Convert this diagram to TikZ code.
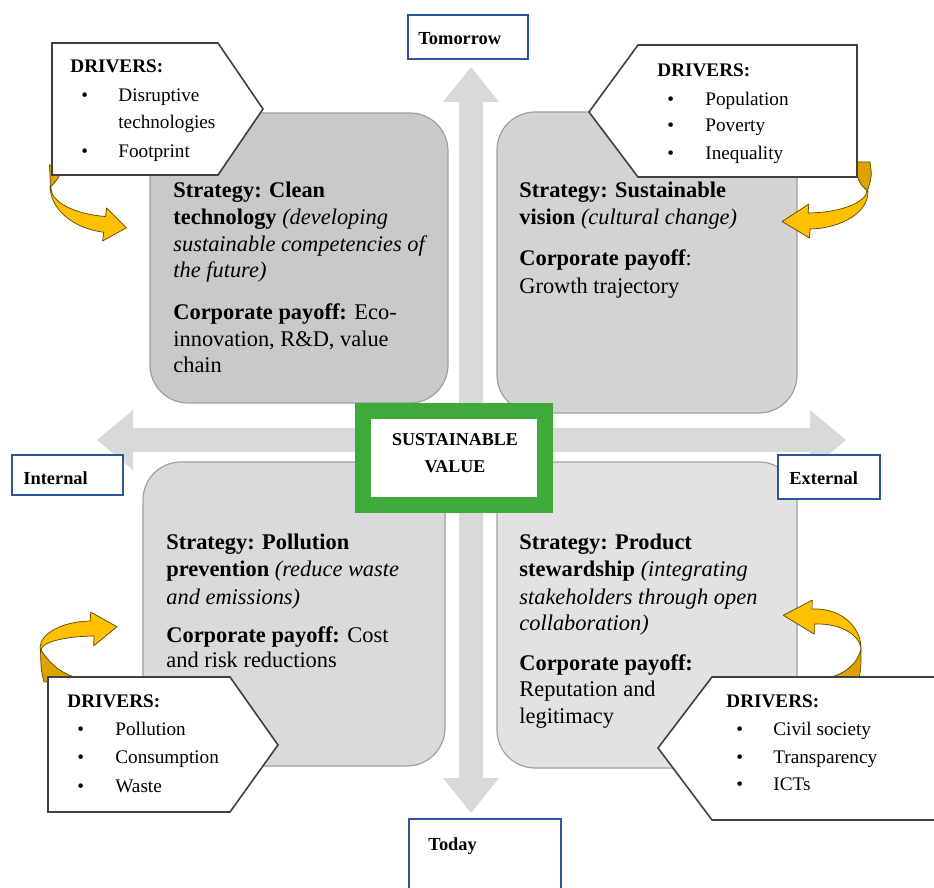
\documentclass[tikz,border=0pt]{standalone}
\usepackage{fontspec}
\setmainfont{Liberation Serif}

\definecolor{axisgray}{HTML}{D9D9D9}
\definecolor{quadA}{HTML}{C9C9C9}
\definecolor{quadB}{HTML}{D3D3D3}
\definecolor{quadC}{HTML}{DADADA}
\definecolor{quadD}{HTML}{E2E2E2}
\definecolor{quadline}{HTML}{A0A0A0}
\definecolor{drvline}{HTML}{404040}
\definecolor{lblblue}{HTML}{2E5597}
\definecolor{valgreen}{HTML}{3DAA3A}
\definecolor{ribbon}{HTML}{FFC000}
\definecolor{ribbonback}{HTML}{DDA200}
\definecolor{ribbonline}{HTML}{5C4600}

\begin{document}
\begin{tikzpicture}[x=0.5pt,y=-0.5pt,
  quad/.style={draw=quadline,line width=0.6pt,rounded corners=19pt},
  drv/.style={fill=white,draw=drvline,line width=0.8pt,line join=miter},
  lbl/.style={fill=white,draw=lblblue,line width=1pt},
  rib/.style={fill=ribbon,draw=ribbonline,line width=0.35pt,line join=round},
  ribback/.style={fill=ribbonback,draw=ribbonline,line width=0.35pt,line join=round},
  qt/.style={anchor=base west,inner sep=0pt,font=\fontsize{11.2}{12}\selectfont},
  dt/.style={anchor=base west,inner sep=0pt,font=\fontsize{9.6}{10}\selectfont},
  lt/.style={anchor=base west,inner sep=0pt,font=\fontsize{9.2}{10}\selectfont\bfseries},
  vt/.style={anchor=base,inner sep=0pt,font=\fontsize{9}{10}\selectfont\bfseries}]

\clip (0,0) rectangle (934,888);

% double-headed axes
\fill[axisgray] (471,67) -- (499,102) -- (483,102) -- (483,778) -- (499,778)
  -- (471,813) -- (443,778) -- (459,778) -- (459,102) -- (443,102) -- cycle;
\fill[axisgray] (97,440) -- (133,410) -- (133,428) -- (810,428) -- (810,410)
  -- (846,440) -- (810,470) -- (810,452) -- (133,452) -- (133,470) -- cycle;

% quadrant panels
\draw[quad,fill=quadA] (150,113) rectangle (448,403);
\draw[quad,fill=quadB] (497,112) rectangle (797,413);
\draw[quad,fill=quadC] (143,462) rectangle (445,766);
\draw[quad,fill=quadD] (497,462) rectangle (797,768);

% curved ribbon arrows (drawn under the driver tags)
% top left
\draw[ribback] (50.5,187) -- (49.5,165) -- (63,165) .. controls (59,178) .. (50.5,187) -- cycle;
\draw[rib] (50,186) arc[start angle=180,end angle=100,x radius=65,y radius=47]
  -- (102.6,241) -- (126.4,227.8) -- (106.6,208) -- (105.5,216.5)
  arc[start angle=100,end angle=180,x radius=66,y radius=29] -- cycle;
% top right
\draw[ribback] (867.5,191) .. controls (858,182) .. (856,162) -- (870,162) .. controls (872,176) .. (867.5,191) -- cycle;
\draw[rib] (868,192) arc[start angle=0,end angle=88,x radius=60,y radius=37]
  -- (809.4,238) -- (782.1,221.5) -- (808.8,204) -- (808.1,213)
  arc[start angle=88,end angle=0,x radius=61,y radius=23] -- cycle;
% bottom left
\draw[ribback] (40.5,649) .. controls (52,668) and (66,676) .. (86,680) -- (44,682) .. controls (41,670) .. (40.5,649) -- cycle;
\draw[rib] (40,648) arc[start angle=180,end angle=268,x radius=52,y radius=27]
  -- (90.7,612.1) -- (117.05,626.8) -- (93.6,645.9) -- (94.1,636)
  arc[start angle=268,end angle=180,x radius=55,y radius=14] -- cycle;
% bottom right
\draw[ribback] (861,649) .. controls (856,668) and (840,676) .. (820,680) -- (858,682) .. controls (861,670) .. (861,649) -- cycle;
\draw[rib] (861,648) arc[start angle=0,end angle=-95,x radius=45,y radius=39]
  -- (812.2,600.1) -- (783.3,615.3) -- (814.2,634.1) -- (814.3,624.1)
  arc[start angle=-95,end angle=0,x radius=43,y radius=26] -- cycle;

% driver tags
\draw[drv] (52,43) -- (218,43) -- (263,109) -- (218,175) -- (52,175) -- cycle;
\draw[drv] (857,45) -- (638,45) -- (589,112) -- (638,177) -- (857,177) -- cycle;
\draw[drv] (48,677) -- (230,677) -- (278,745) -- (230,812) -- (48,812) -- cycle;
\draw[drv] (940,677) -- (712,677) -- (658,748) -- (712,820) -- (940,820) -- cycle;

% axis labels
\draw[lbl] (408,15) rectangle (528,59);
\draw[lbl] (409,819) rectangle (561,900);
\draw[lbl] (12,455) rectangle (123,495);
\draw[lbl] (778,455) rectangle (880,499);
\node[lt] (tomorrow) at (418,45) {Tomorrow};
\node[lt] (today) at (428,850) {Today};
\node[lt] (internal) at (23,485) {Internal};
\node[lt] (external) at (789,485) {External};

% centre box
\draw[draw=valgreen,line width=8pt,fill=white] (363,411) rectangle (545,505);
\node[vt] (sv1) at (455,446) {SUSTAINABLE};
\node[vt] (sv2) at (455,473) {VALUE};

% top-left panel text
\node[qt] (tl1) at (173,198) {\textbf{Strategy: Clean}};
\node[qt] (tl2) at (173,225) {\textbf{technology} \textit{(developing}};
\node[qt] (tl3) at (173,252) {\textit{sustainable competencies of}};
\node[qt] (tl4) at (173,278) {\textit{the future)}};
\node[qt] (tl5) at (173,320) {\textbf{Corporate payoff:} Eco-};
\node[qt] (tl6) at (173,347) {innovation, R\&D, value};
\node[qt] (tl7) at (173,373) {chain};

% top-right panel text
\node[qt] (tr1) at (519,198) {\textbf{Strategy: Sustainable}};
\node[qt] (tr2) at (519,225) {\textbf{vision} \textit{(cultural change)}};
\node[qt] (tr3) at (519,266) {\textbf{Corporate payoff}:};
\node[qt] (tr4) at (519,294) {Growth trajectory};

% bottom-left panel text
\node[qt] (bl1) at (166,550) {\textbf{Strategy: Pollution}};
\node[qt] (bl2) at (166,577) {\textbf{prevention} \textit{(reduce waste}};
\node[qt] (bl3) at (166,604) {\textit{and emissions)}};
\node[qt] (bl4) at (166,642) {\textbf{Corporate payoff:} Cost};
\node[qt] (bl5) at (166,668) {and risk reductions};

% bottom-right panel text
\node[qt] (br1) at (519,550) {\textbf{Strategy: Product}};
\node[qt] (br2) at (519,577) {\textbf{stewardship} \textit{(integrating}};
\node[qt] (br3) at (519,604) {\textit{stakeholders through open}};
\node[qt] (br4) at (519,631) {\textit{collaboration)}};
\node[qt] (br5) at (519,670) {\textbf{Corporate payoff:}};
\node[qt] (br6) at (519,697) {Reputation and};
\node[qt] (br7) at (519,724) {legitimacy};

% driver lists
\node[dt] (dtl0) at (70,73) {\textbf{DRIVERS:}};
\node[dt] (dtlb1) at (81,102) {\textbullet};
\node[dt] (dtl1) at (118,102) {Disruptive};
\node[dt] (dtl2) at (118,129) {technologies};
\node[dt] (dtlb3) at (81,158) {\textbullet};
\node[dt] (dtl3) at (118,158) {Footprint};

\node[dt] (dtr0) at (657,77) {\textbf{DRIVERS:}};
\node[dt] (dtrb1) at (667,106) {\textbullet};
\node[dt] (dtr1) at (705,106) {Population};
\node[dt] (dtrb2) at (667,132) {\textbullet};
\node[dt] (dtr2) at (705,132) {Poverty};
\node[dt] (dtrb3) at (667,160) {\textbullet};
\node[dt] (dtr3) at (705,160) {Inequality};

\node[dt] (dbl0) at (67,707) {\textbf{DRIVERS:}};
\node[dt] (dblb1) at (77,735) {\textbullet};
\node[dt] (dbl1) at (115,735) {Pollution};
\node[dt] (dblb2) at (77,763) {\textbullet};
\node[dt] (dbl2) at (115,763) {Consumption};
\node[dt] (dblb3) at (77,792) {\textbullet};
\node[dt] (dbl3) at (115,792) {Waste};

\node[dt] (dbr0) at (726,707) {\textbf{DRIVERS:}};
\node[dt] (dbrb1) at (736,735) {\textbullet};
\node[dt] (dbr1) at (773,735) {Civil society};
\node[dt] (dbrb2) at (736,763) {\textbullet};
\node[dt] (dbr2) at (773,763) {Transparency};
\node[dt] (dbrb3) at (736,791) {\textbullet};
\node[dt] (dbr3) at (773,791) {ICTs};
\end{tikzpicture}
\end{document}
